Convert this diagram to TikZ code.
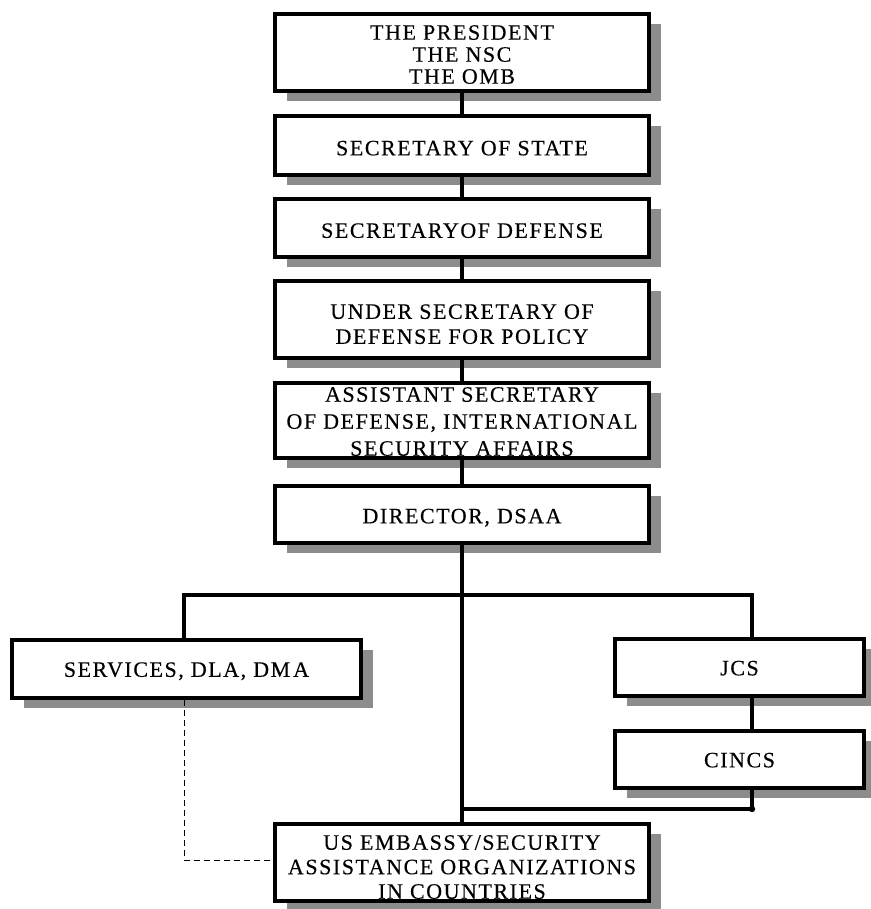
\documentclass[tikz,border=0pt]{standalone}
\usepackage{fontspec}
\setmainfont{Liberation Serif}[LetterSpace=7, FakeBold=0.3]
\usetikzlibrary{shadows}
\newcommand{\bxtext}[2]{\raisebox{#1}[0pt][0pt]{\begin{tabular}{@{}c@{}}#2\end{tabular}}}
\begin{document}
\begin{tikzpicture}[x=1pt,y=-1pt,
  box/.style={draw, line width=3.5pt, fill=white, inner sep=0pt,
    font=\fontsize{22}{25}\selectfont,
    drop shadow={shadow xshift=12pt, shadow yshift=-10pt, fill=black!45, opacity=1}},
  mainbox/.style={box, minimum width=374pt},
  conn/.style={line width=3.5pt},
  dsh/.style={line width=1pt, dash pattern=on 6pt off 4pt}]
\useasboundingbox (0,0) rectangle (870,909);

\node[mainbox, minimum height=77pt, font=\fontsize{22}{22}\selectfont] (pres) at (462,52.5) {\bxtext{-10pt}{THE PRESIDENT\\THE NSC\\THE OMB}};
\node[mainbox, minimum height=59pt] (sos) at (462,145.5) {\bxtext{-10pt}{SECRETARY OF STATE}};
\node[mainbox, minimum height=58pt] (sod) at (462,228) {\bxtext{-10pt}{SECRETARYOF DEFENSE}};
\node[mainbox, minimum height=77pt] (usdp) at (462,319.5) {\bxtext{-12pt}{UNDER SECRETARY OF\\DEFENSE FOR POLICY}};
\node[mainbox, minimum height=75pt, font=\fontsize{22}{27}\selectfont] (asd) at (462,420.5) {\bxtext{-8pt}{ASSISTANT SECRETARY\\OF DEFENSE, INTERNATIONAL\\SECURITY AFFAIRS}};
\node[mainbox, minimum height=57pt] (dsaa) at (462,514.5) {\bxtext{-9pt}{DIRECTOR, DSAA}};
\node[box, minimum width=349pt, minimum height=58pt] (serv) at (186.5,669) {\bxtext{-8pt}{SERVICES, DLA, DM\kern3pt A}};
\node[box, minimum width=249pt, minimum height=57pt] (jcs) at (739.5,667.5) {\bxtext{-8pt}{JCS}};
\node[box, minimum width=249pt, minimum height=57pt] (cincs) at (739.5,759.5) {\bxtext{-8pt}{CINCS}};
\node[mainbox, minimum height=77pt, font=\fontsize{22}{24.5}\selectfont] (emb) at (462,862.5) {\bxtext{-12pt}{US EMBASSY/SECURITY\\ASSISTANCE ORGANIZATIONS\\IN COUNTRIES}};

\draw[conn] (pres.south) -- (sos.north);
\draw[conn] (sos.south) -- (sod.north);
\draw[conn] (sod.south) -- (usdp.north);
\draw[conn] (usdp.south) -- (asd.north);
\draw[conn] (asd.south) -- (dsaa.north);
\draw[conn] (dsaa.south) -- (emb.north);

\coordinate (barL) at (184,595);
\coordinate (barR) at (752,595);
\coordinate (botR) at (752,809);
\coordinate (dk) at (184,860);
\draw[conn] (barL |- serv.north) -- (barL) -- (barR) -- (barR |- jcs.north);
\draw[conn] (barR |- jcs.south) -- (barR |- cincs.north);
\draw[conn] (barR |- cincs.south) -- (botR) -- (emb.north |- botR);
\fill (botR) circle (3.2pt);
\draw[dsh] (dk |- serv.south) -- (dk) -- (dk -| emb.west);
\end{tikzpicture}
\end{document}
